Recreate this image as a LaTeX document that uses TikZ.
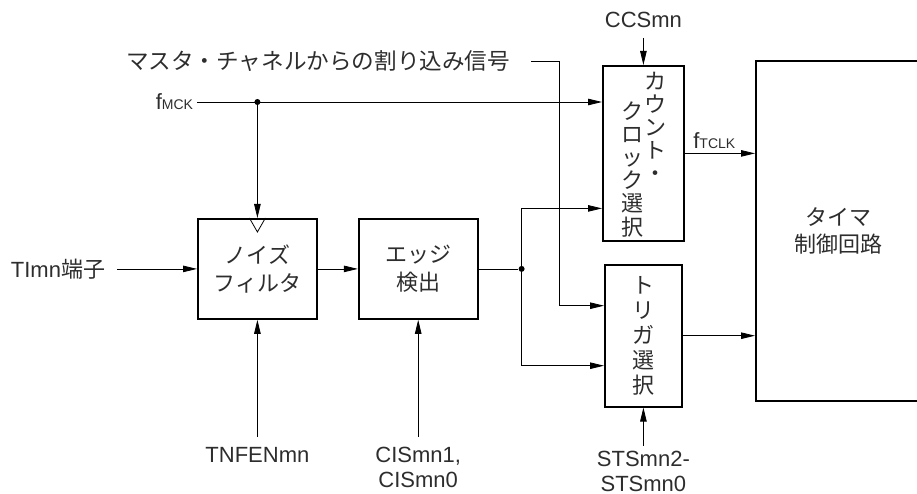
\documentclass[tikz,border=0pt]{standalone}
\usepackage{fontspec}
\setmainfont{Liberation Sans}
\newfontfamily\jpfont{Noto Sans CJK JP}
\usepackage{tikz}
\usetikzlibrary{arrows.meta,positioning}
\definecolor{txtgray}{RGB}{45,45,45}
\newcommand{\lsz}{\fontsize{22}{25}\selectfont}
\newcommand{\subsz}{\fontsize{14}{14}\selectfont}

\begin{document}
\begin{tikzpicture}[
  x=1pt, y=-1pt,
  blk/.style={draw, line width=1.8pt, inner sep=0pt, align=center,
              font=\jpfont\fontsize{22}{28}\selectfont, text=txtgray},
  arr/.style={-{Triangle[length=14pt,width=6.5pt]}, line width=0.8pt},
  ln/.style={line width=0.8pt},
  lab/.style={font=\lsz, text=txtgray, inner sep=0pt, align=center},
  jlab/.style={font=\jpfont\lsz, text=txtgray, inner sep=0pt},
  dot/.style={circle, fill, inner sep=0pt, minimum size=6pt}
]
\useasboundingbox (0,0) rectangle (917,494);
% blocks
\node[blk, minimum width=119pt, minimum height=100pt, anchor=north west] (nf) at (197,218) {ノイズ\\フィルタ};
\node[blk, minimum width=119pt, minimum height=100pt, right=40pt of nf] (ed) {エッジ\\検出};
\node[blk, minimum width=81pt, minimum height=175pt, anchor=north west] (cc) at (602,65) {};
\node[blk, minimum width=77pt, minimum height=142pt, below=22pt of cc,
      font=\jpfont\fontsize{22}{25}\selectfont] (tg) {ト\\リ\\ガ\\選\\択};
\node[blk, minimum width=165pt, minimum height=340pt, anchor=north west,
      font=\jpfont\fontsize{22}{27}\selectfont] (tc) at (755,60) {タイマ\\制御回路};
% vertical text of the count clock block
\foreach \ch [count=\i from 0] in {カ,ウ,ン,ト,・}
  \node[jlab, anchor=base] at ([shift={(12.5,25+23*\i)}]cc.north) {\ch};
\foreach \ch [count=\i from 0] in {ク,ロ,ッ,ク,選,択}
  \node[jlab, anchor=base] at ([shift={(-10.5,55+23*\i)}]cc.north) {\ch};
% inputs
\node[lab, anchor=east, outer xsep=12pt] (ti) at ([xshift=-80pt]nf.west) {TImn{\jpfont 端子}};
\draw[arr] (ti.east) -- (nf.west);
\draw[arr] (nf) -- (ed);
\node[lab, anchor=east, outer xsep=4pt] (fm) at (197,102) {f{\subsz MCK}};
\draw[arr] (fm.east) -- (fm.east -| cc.west);
\node[dot] (j0) at (fm.east -| nf.north) {};
\draw[arr] (j0) -- (nf.north);
\draw[ln] ([xshift=-8pt]nf.north) -- ([yshift=-14pt]nf.north) -- ([xshift=8pt]nf.north);
\node[jlab, anchor=east, outer xsep=21pt, font=\jpfont\fontsize{22.6}{25}\selectfont] (mi) at (531,61) {マスタ・チャネルからの割り込み信号};
\draw[arr] (mi.east) -| ([xshift=-45pt,yshift=30pt]tg.west) -- ([yshift=30pt]tg.west);
% edge output split
\node[dot] (j1) at ([xshift=43pt]ed.east) {};
\draw[ln] (ed) -- (j1);
\draw[arr] (j1) |- ([yshift=-55pt]cc.west);
\draw[arr] (j1) |- ([yshift=-30pt]tg.west);
% outputs
\draw[arr] (cc.east) -- node[lab, above=4pt, pos=0.42] {f{\subsz TCLK}} (cc.east -| tc.west);
\draw[arr] (tg.east) -- (tg.east -| tc.west);
% control registers
\node[lab, anchor=south, inner ysep=10pt] (ccs) at ([yshift=27pt]cc.north) {CCSmn};
\draw[arr] (ccs.south) -- (cc.north);
\node[lab, anchor=north, inner ysep=10pt] (tnf) at ([yshift=-117pt]nf.south) {TNFENmn};
\draw[arr] (tnf.north) -- (nf.south);
\node[lab, anchor=north, inner ysep=10pt] (cis) at ([yshift=-117pt]ed.south) {CISmn1,\\CISmn0};
\draw[arr] (cis.north) -- (ed.south);
\node[lab, anchor=north, inner ysep=5pt] (sts) at ([yshift=-38pt]tg.south) {STSmn2-\\STSmn0};
\draw[arr] (sts.north) -- (tg.south);
\end{tikzpicture}
\end{document}
